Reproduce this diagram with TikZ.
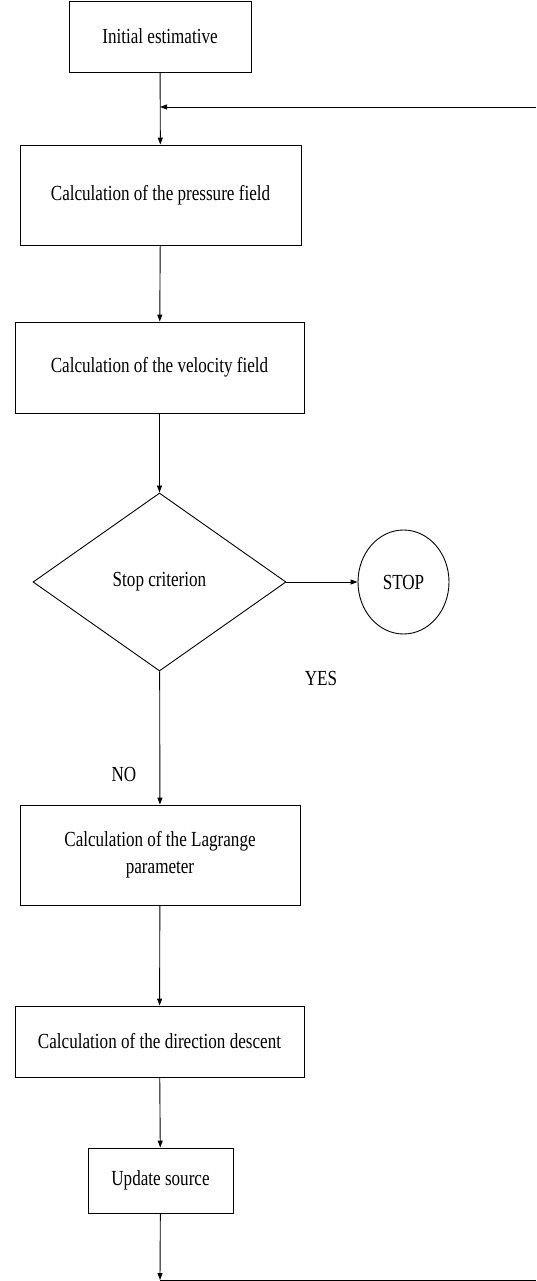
\documentclass[tikz,border=0pt]{standalone}
\usepackage{fontspec}
\setmainfont[FakeStretch=0.795]{Liberation Serif}
\usetikzlibrary{shapes.geometric,arrows.meta}
\begin{document}
\begin{tikzpicture}[x=1pt,y=-1pt,
 txt/.style={font=\fontsize{21.5}{27}\selectfont},
 box/.style={txt,draw,line width=0.9pt,rectangle,inner sep=0pt,align=center},
 arr/.style={line width=0.9pt,-{Triangle[length=7pt,width=5pt]}},
 plain/.style={line width=0.9pt},
 lbl/.style={txt,inner sep=0pt}]
\useasboundingbox (0,0) rectangle (536,1281);
\node[box,minimum width=182pt,minimum height=71pt] (init) at (160,36.5) {Initial estimative};
\node[box,minimum width=281pt,minimum height=100pt] (pres) at (160.5,195) {Calculation of the pressure field};
\node[box,minimum width=289pt,minimum height=91pt] (velo) at (159.5,367.5) {Calculation of the velocity field};
\node[txt,draw,line width=0.9pt,diamond,inner sep=0pt,minimum width=253pt,minimum height=178pt] (crit) at (159.5,582) {Stop criterion};
\node[txt,draw,line width=0.9pt,ellipse,inner sep=0pt,minimum width=91pt,minimum height=104pt] (stop) at (403.5,582) {STOP};
\node[box,minimum width=280pt,minimum height=100pt] (lagr) at (160,855) {Calculation of the Lagrange\\parameter};
\node[box,minimum width=289pt,minimum height=71pt] (dirn) at (159.5,1041.5) {Calculation of the direction descent};
\node[box,minimum width=145pt,minimum height=65pt] (upd) at (160.5,1180.5) {Update source};
\node[lbl] (yes) at (321,678) {YES};
\node[lbl] (no) at (124,774) {NO};
\coordinate (rin) at (536,107);
\coordinate (bl) at (160,1280);
\coordinate (br) at (536,1280);
\draw[arr] (init) -- (pres);
\draw[arr] (rin) -- (init.south |- rin);
\draw[arr] (pres) -- (velo);
\draw[arr] (velo) -- (crit);
\draw[arr] (crit) -- (stop);
\draw[arr] (crit) -- (lagr);
\draw[arr] (lagr) -- (dirn);
\draw[arr] (dirn) -- (upd);
\draw[arr] (upd) -- (bl);
\draw[plain] (bl) -- (br);
\end{tikzpicture}
\end{document}
